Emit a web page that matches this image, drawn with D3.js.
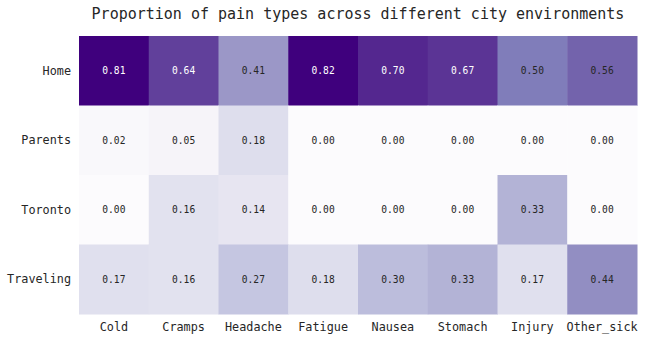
<!DOCTYPE html>
<html>
<head>
<meta charset="utf-8">
<script src="https://cdn.jsdelivr.net/npm/d3@7"></script>
<style>
  body { margin: 0; background: #fff; }
  svg text { font-family: "DejaVu Sans Mono", monospace; }
</style>
</head>
<body>
<div id="chart"></div>
<script>
// rows / columns of the heatmap
const places = ["Home", "Parents", "Toronto", "Traveling"];
const painTypes = ["Cold", "Cramps", "Headache", "Fatigue", "Nausea", "Stomach", "Injury", "Other_sick"];

// proportion of each pain type, one array per place
const home      = [0.81, 0.64, 0.41, 0.82, 0.70, 0.67, 0.50, 0.56];
const parents   = [0.02, 0.05, 0.18, 0.00, 0.00, 0.00, 0.00, 0.00];
const toronto   = [0.00, 0.16, 0.14, 0.00, 0.00, 0.00, 0.33, 0.00];
const traveling = [0.17, 0.16, 0.27, 0.18, 0.30, 0.33, 0.17, 0.44];

const rows = [home, parents, toronto, traveling];

const cells = [];
rows.forEach((vals, i) => {
    vals.forEach((v, j) => {
        cells.push({ place: places[i], pain: painTypes[j], value: v });
    });
});

var margin = {top: 36, right: 9, bottom: 28, left: 79},
    width = 646 - margin.left - margin.right,
    height = 342 - margin.top - margin.bottom;

var svg = d3.select("#chart")
    .append("svg")
    .attr("width", 646)
    .attr("height", 342)
    .append("g")
    .attr("transform", "translate(" + margin.left + "," + margin.top + ")");

var x = d3.scaleBand().domain(painTypes).range([0, width]);
var y = d3.scaleBand().domain(places).range([0, height]);

// linear Purples ramp, colour range clipped at 0.8
const purples = d3.schemePurples[9];
const vmax = 0.8;
var color = d3.scaleLinear()
    .domain(d3.range(9).map(k => k / 8 * vmax))
    .range(purples)
    .clamp(true);

svg.selectAll("rect.cell")
    .data(cells)
    .enter()
    .append("rect")
    .attr("class", "cell")
    .attr("x", d => x(d.pain))
    .attr("y", d => y(d.place))
    .attr("width", x.bandwidth() + 0.5)
    .attr("height", y.bandwidth() + 0.5)
    .attr("fill", d => color(d.value));

// light text on dark cells
function textColor(v) {
    const c = d3.rgb(color(v));
    const lum = (0.2126 * c.r + 0.7152 * c.g + 0.0722 * c.b) / 255;
    return lum > 0.408 ? "#262626" : "#ffffff";
}

svg.selectAll("text.val")
    .data(cells)
    .enter()
    .append("text")
    .attr("class", "val")
    .attr("x", d => x(d.pain) + x.bandwidth() / 2)
    .attr("y", d => y(d.place) + y.bandwidth() / 2)
    .attr("text-anchor", "middle")
    .attr("dominant-baseline", "central")
    .style("font-size", "9.6px")
    .attr("fill", d => textColor(d.value))
    .text(d => d.value.toFixed(2));

// axes without lines or ticks
var xAxis = svg.append("g")
    .attr("transform", "translate(0," + height + ")")
    .call(d3.axisBottom(x).tickSize(0).tickPadding(9));
var yAxis = svg.append("g")
    .call(d3.axisLeft(y).tickSize(0).tickPadding(8));

[xAxis, yAxis].forEach(a => {
    a.select(".domain").remove();
    a.selectAll("text")
        .style("font-family", "'DejaVu Sans Mono', monospace")
        .style("font-size", "11.8px")
        .attr("fill", "#262626");
});

svg.append("text")
    .attr("x", width / 2)
    .attr("y", -17)
    .attr("text-anchor", "middle")
    .style("font-size", "15px")
    .attr("fill", "#262626")
    .text("Proportion of pain types across different city environments");
</script>
</body>
</html>
